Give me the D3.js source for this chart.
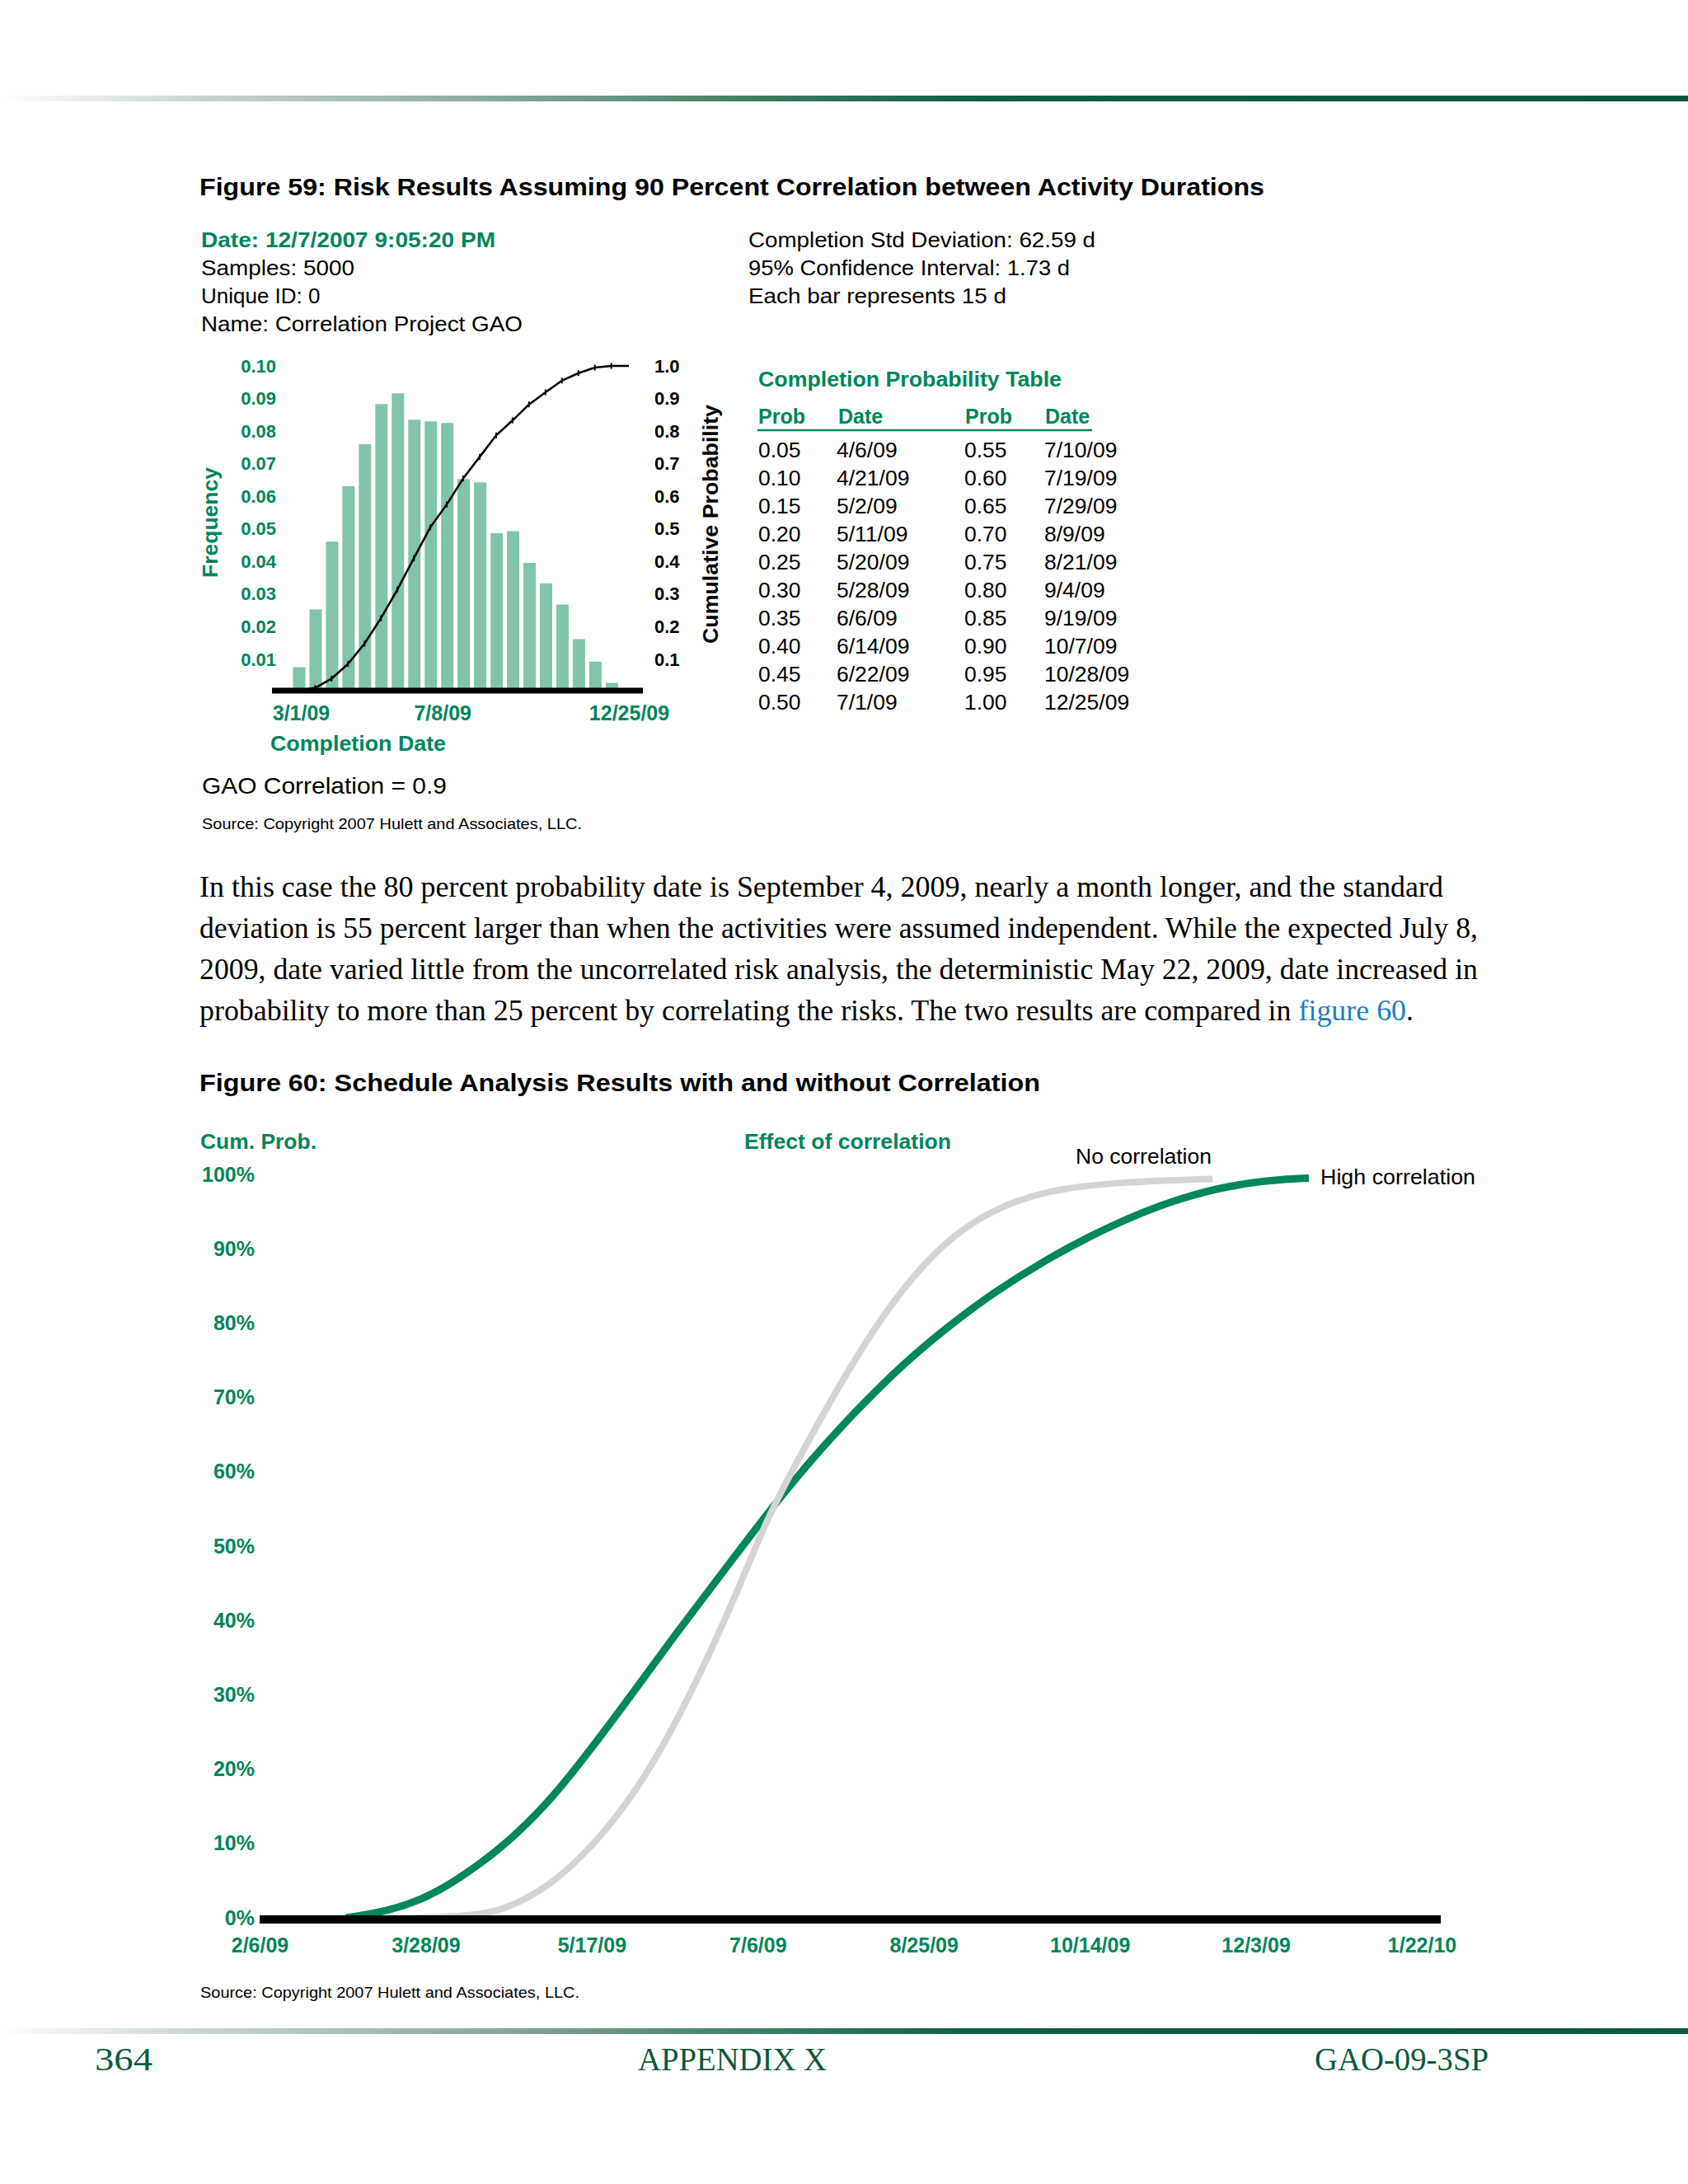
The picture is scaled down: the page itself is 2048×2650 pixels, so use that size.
<!DOCTYPE html>
<html>
<head>
<meta charset="utf-8">
<script src="https://cdn.jsdelivr.net/npm/d3@7"></script>
<style>
  body { margin: 0; background: #fff; }
  svg { display: block; font-family: "Liberation Sans", Arial, sans-serif; }
</style>
</head>
<body>
<svg width="2048" height="2650"></svg>
<script>
// ---- datos figura 59 (histograma) ----
const histBinStarts = ["2/20/09","3/7/09","3/22/09","4/6/09","4/21/09","5/6/09","5/21/09","6/5/09","6/20/09","7/5/09",
                       "7/20/09","8/4/09","8/19/09","9/3/09","9/18/09","10/3/09","10/18/09","11/2/09","11/17/09","12/2/09"];
const histFreq = [0.0076,0.0253,0.0461,0.0631,0.0760,0.0883,0.0916,0.0835,0.0830,0.0825,
                  0.0653,0.0643,0.0487,0.0493,0.0396,0.0333,0.0268,0.0162,0.0093,0.0028];
const cumDates = ["2/13/09","2/27/09","3/14/09","3/29/09","4/13/09","4/28/09","5/13/09","5/28/09","6/12/09","6/27/09","7/12/09",
                  "7/27/09","8/11/09","8/26/09","9/10/09","9/25/09","10/10/09","10/25/09","11/9/09","11/24/09","12/9/09","12/25/09"];
const cumProb = [0,0.005,0.012,0.041,0.086,0.148,0.226,0.314,0.41,0.505,0.575,
                 0.655,0.721,0.787,0.833,0.882,0.919,0.955,0.978,0.995,1.0,1.0];
const freqTicks = [0.01,0.02,0.03,0.04,0.05,0.06,0.07,0.08,0.09,0.10];
const cumTicks = [0.1,0.2,0.3,0.4,0.5,0.6,0.7,0.8,0.9,1.0];
const histDateTicks = ["3/1/09","7/8/09","12/25/09"];

// tabla de probabilidades
const tableProb = ["0.05","0.10","0.15","0.20","0.25","0.30","0.35","0.40","0.45","0.50",
                   "0.55","0.60","0.65","0.70","0.75","0.80","0.85","0.90","0.95","1.00"];
const tableDate = ["4/6/09","4/21/09","5/2/09","5/11/09","5/20/09","5/28/09","6/6/09","6/14/09","6/22/09","7/1/09",
                   "7/10/09","7/19/09","7/29/09","8/9/09","8/21/09","9/4/09","9/19/09","10/7/09","10/28/09","12/25/09"];

// ---- datos figura 60 (curvas acumuladas) ----
const highDates = ["3/4/09","3/17/09","3/29/09","4/10/09","4/23/09","5/5/09","5/17/09","5/30/09","6/11/09","6/24/09","7/8/09",
                   "7/22/09","8/5/09","8/19/09","9/2/09","9/16/09","9/30/09","10/14/09","10/28/09","11/11/09","11/25/09","12/9/09","12/19/09"];
const highPct = [0,0.9,2.8,6.1,10.6,16.0,22.8,30.6,38.0,45.6,53.9,
                 61.6,68.4,74.6,79.8,84.4,88.3,91.7,94.6,96.9,98.5,99.3,99.5];
const noDates = ["3/25/09","4/10/09","4/20/09","5/1/09","5/13/09","5/26/09","6/7/09","6/19/09","7/1/09","7/9/09",
                 "7/21/09","8/3/09","8/15/09","8/28/09","9/9/09","9/22/09","10/6/09","10/25/09","11/20/09"];
const noPct = [0,0.2,1.0,3.3,7.6,14.2,22.5,33.0,45.0,54.0,
               64.0,74.3,82.6,89.5,93.8,96.6,98.2,99.0,99.4];
const pctTicks = [0,10,20,30,40,50,60,70,80,90,100];
const dateTicks60 = ["2/6/09","3/28/09","5/17/09","7/6/09","8/25/09","10/14/09","12/3/09","1/22/10"];

const green = "#00855a";
const parse = d3.timeParse("%m/%d/%y");
const fmt = d3.timeFormat("%-m/%-d/%y");

const svg = d3.select("svg");

// Función para agregar texto con ancho opcional
function addText(x, y, str, opts) {
  opts = opts || {};
  const t = svg.append("text")
    .attr("x", x).attr("y", y)
    .attr("font-size", opts.size || 26)
    .attr("font-weight", opts.bold ? "bold" : "normal")
    .attr("fill", opts.fill || "#000")
    .attr("font-family", opts.family || null)
    .attr("text-anchor", opts.anchor || "start")
    .text(str);
  if (opts.len) t.attr("textLength", opts.len).attr("lengthAdjust", opts.adjust || "spacingAndGlyphs");
  if (opts.rotate) t.attr("transform", `rotate(-90,${x},${y})`);
  return t;
}

// barras de encabezado y pie con degradado
const defs = svg.append("defs");
const grad = defs.append("linearGradient").attr("id", "rule").attr("x1", 0).attr("x2", 1);
[[0, "#ffffff"], [0.12, "#c9d4ce"], [0.3, "#86a697"], [0.45, "#3f7d62"], [0.58, "#0b5f42"], [1, "#005a3b"]]
  .forEach(s => grad.append("stop").attr("offset", s[0]).attr("stop-color", s[1]));
svg.append("rect").attr("x", 0).attr("y", 116).attr("width", 2048).attr("height", 7).attr("fill", "url(#rule)");
svg.append("rect").attr("x", 0).attr("y", 2461).attr("width", 2048).attr("height", 7).attr("fill", "url(#rule)");

// ---- Figura 59 ----
addText(242, 237, "Figure 59: Risk Results Assuming 90 Percent Correlation between Activity Durations",
        { size: 29, bold: true, len: 1292 });

addText(244, 300, "Date: 12/7/2007 9:05:20 PM", { size: 26, bold: true, fill: green, len: 357 });
addText(244, 334, "Samples: 5000", { size: 26, len: 186 });
addText(244, 368, "Unique ID: 0", { size: 26 });
addText(244, 402, "Name: Correlation Project GAO", { size: 26, len: 390 });
addText(908, 300, "Completion Std Deviation: 62.59 d", { size: 26, len: 421 });
addText(908, 334, "95% Confidence Interval: 1.73 d", { size: 26, len: 390 });
addText(908, 368, "Each bar represents 15 d", { size: 26, len: 313 });

const hx = d3.scaleTime().domain([parse("3/1/09"), parse("12/25/09")]).range([365, 763]);
const hy = d3.scaleLinear().domain([0, 0.10]).range([839.6, 444]);
const hy2 = d3.scaleLinear().domain([0, 1]).range([839.6, 444]);

const bins = histBinStarts.map((s, i) => ({ start: parse(s), f: histFreq[i] }));
svg.append("g").selectAll("rect")
  .data(bins)
  .enter()
  .append("rect")
  .attr("x", d => hx(d.start) + 2.5)
  .attr("width", d => hx(d3.timeDay.offset(d.start, 15)) - hx(d.start) - 5)
  .attr("y", d => hy(d.f))
  .attr("height", d => hy(0) - hy(d.f))
  .attr("fill", "#80c4aa");

// línea acumulada
const cum = cumDates.map((s, i) => ({ date: parse(s), p: cumProb[i] }));
svg.append("path")
  .datum(cum)
  .attr("d", d3.line().x(d => hx(d.date)).y(d => hy2(d.p)))
  .attr("fill", "none")
  .attr("stroke", "#000")
  .attr("stroke-width", 2.6);
svg.append("g").selectAll("line")
  .data(cum.slice(2, cum.length - 1))
  .enter()
  .append("line")
  .attr("x1", d => hx(d.date)).attr("x2", d => hx(d.date))
  .attr("y1", d => hy2(d.p) - 3.5).attr("y2", d => hy2(d.p) + 3.5)
  .attr("stroke", "#000").attr("stroke-width", 2);

// eje horizontal grueso
svg.append("line").attr("x1", 330).attr("x2", 780).attr("y1", 838).attr("y2", 838)
  .attr("stroke", "#000").attr("stroke-width", 7);

function styleAxis(g, size, fill) {
  g.select(".domain").remove();
  g.selectAll("text")
    .attr("font-family", "Liberation Sans, Arial, sans-serif")
    .attr("font-size", size)
    .attr("font-weight", "bold")
    .attr("fill", fill);
}

svg.append("g").attr("transform", "translate(335,0)")
  .call(d3.axisLeft(hy).tickValues(freqTicks).tickSize(0).tickPadding(0).tickFormat(d3.format(".2f")))
  .call(g => styleAxis(g, 22, green));
svg.append("g").attr("transform", "translate(794,0)")
  .call(d3.axisRight(hy2).tickValues(cumTicks).tickSize(0).tickPadding(0).tickFormat(d3.format(".1f")))
  .call(g => styleAxis(g, 22, "#000"));
svg.append("g").attr("transform", "translate(0,856)")
  .call(d3.axisBottom(hx).tickValues(histDateTicks.map(parse)).tickSize(0).tickPadding(0).tickFormat(fmt))
  .call(g => styleAxis(g, 25, green));

addText(328, 911, "Completion Date", { size: 25, bold: true, fill: green, len: 213 });
addText(264, 634, "Frequency", { size: 25, bold: true, fill: green, anchor: "middle", rotate: true, len: 134 });
addText(871, 636, "Cumulative Probability", { size: 25, bold: true, anchor: "middle", rotate: true, len: 290 });

// tabla
addText(920, 469, "Completion Probability Table", { size: 25, bold: true, fill: green, len: 368 });
[["Prob", 920], ["Date", 1017], ["Prob", 1171], ["Date", 1268]].forEach(h =>
  addText(h[1], 514, h[0], { size: 25, bold: true, fill: green }));
svg.append("line").attr("x1", 919).attr("x2", 1325).attr("y1", 522).attr("y2", 522)
  .attr("stroke", green).attr("stroke-width", 2.5);

const rows = tableProb.map((p, i) => ({ p: p, d: tableDate[i], col: Math.floor(i / 10), row: i % 10 }));
const rowG = svg.append("g").attr("font-size", 26.5);
rowG.selectAll(".tp").data(rows).enter().append("text")
  .attr("x", d => d.col ? 1170 : 920)
  .attr("y", d => 554.5 + d.row * 34.07)
  .text(d => d.p);
rowG.selectAll(".td").data(rows).enter().append("text")
  .attr("x", d => d.col ? 1267 : 1015)
  .attr("y", d => 554.5 + d.row * 34.07)
  .text(d => d.d);

addText(245, 963, "GAO Correlation = 0.9", { size: 28, len: 297 });
addText(245, 1006, "Source: Copyright 2007 Hulett and Associates, LLC.", { size: 19, len: 461 });

// ---- párrafo ----
const serif = "Liberation Serif, Times New Roman, serif";
const para = [
  ["In this case the 80 percent probability date is September 4, 2009, nearly a month longer, and the standard", 1509],
  ["deviation is 55 percent larger than when the activities were assumed independent. While the expected July 8,", 1551],
  ["2009, date varied little from the uncorrelated risk analysis, the deterministic May 22, 2009, date increased in", 1551]
];
para.forEach((l, i) => addText(242, 1088 + i * 50, l[0], { size: 36, family: serif, len: l[1] }));
const last = svg.append("text").attr("x", 242).attr("y", 1238)
  .attr("font-size", 36).attr("font-family", serif)
  .attr("textLength", 1473).attr("lengthAdjust", "spacingAndGlyphs");
last.append("tspan").text("probability to more than 25 percent by correlating the risks. The two results are compared in ");
last.append("tspan").attr("fill", "#1a7fc1").text("figure 60");
last.append("tspan").text(".");

// ---- Figura 60 ----
addText(242, 1324, "Figure 60: Schedule Analysis Results with and without Correlation",
        { size: 29, bold: true, len: 1020 });
addText(243, 1394, "Cum. Prob.", { size: 25, bold: true, fill: green, len: 141 });
addText(903, 1394, "Effect of correlation", { size: 25, bold: true, fill: green, len: 251 });
addText(1305, 1412, "No correlation", { size: 26, len: 165 });
addText(1602, 1437, "High correlation", { size: 26, len: 188 });

const x = d3.scaleTime().domain([parse("2/6/09"), parse("1/22/10")]).range([315, 1725]);
const y = d3.scaleLinear().domain([0, 100]).range([2327, 1425]);

svg.append("g").attr("transform", "translate(309,0)")
  .call(d3.axisLeft(y).tickValues(pctTicks).tickSize(0).tickPadding(0).tickFormat(d => d + "%"))
  .call(g => styleAxis(g, 25, green));
svg.append("g").attr("transform", "translate(0,2351)")
  .call(d3.axisBottom(x).tickValues(dateTicks60.map(parse)).tickSize(0).tickPadding(0).tickFormat(fmt))
  .call(g => styleAxis(g, 25, green));

const curve = d3.line().x(d => x(d.date)).y(d => y(d.p)).curve(d3.curveBasis);
const high = highDates.map((s, i) => ({ date: parse(s), p: highPct[i] }));
const none = noDates.map((s, i) => ({ date: parse(s), p: noPct[i] }));

svg.append("path").datum(high).attr("d", curve)
  .attr("fill", "none").attr("stroke", "#00875a").attr("stroke-width", 9);
svg.append("path").datum(none).attr("d", curve)
  .attr("fill", "none").attr("stroke", "#d4d4d6").attr("stroke-width", 8);

svg.append("line").attr("x1", 315).attr("x2", 1748).attr("y1", 2329).attr("y2", 2329)
  .attr("stroke", "#000").attr("stroke-width", 10);

addText(243, 2424, "Source: Copyright 2007 Hulett and Associates, LLC.", { size: 19, len: 460 });

// ---- pie de página ----
const foot = "#0b5a3a";
addText(115, 2512, "364", { size: 40, family: serif, fill: foot, len: 70 });
addText(774, 2512, "APPENDIX X", { size: 40, family: serif, fill: foot, len: 229 });
addText(1595, 2512, "GAO-09-3SP", { size: 40, family: serif, fill: foot, len: 211 });
</script>
</body>
</html>
